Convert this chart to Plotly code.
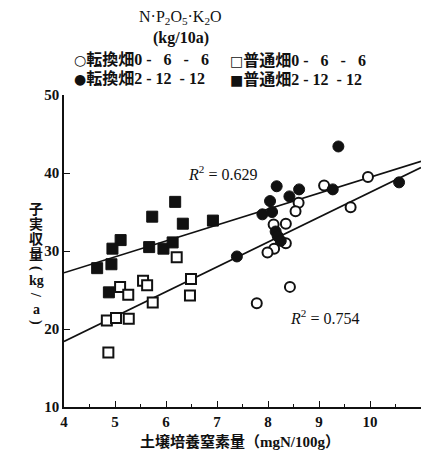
import plotly.graph_objects as go

# 転換畑 0-6-6 (open circles)
tc0_x = [9.10, 9.96, 9.62, 8.60, 8.54, 8.11, 8.35, 8.35, 8.12, 7.99, 8.43, 7.78]
tc0_y = [38.4, 39.5, 35.6, 36.2, 35.1, 33.4, 33.5, 31.0, 30.3, 29.8, 25.4, 23.3]
# 転換畑 2-12-12 (filled circles)
tc2_x = [9.38, 8.17, 8.61, 8.42, 8.04, 9.27, 10.57, 7.89, 8.08, 7.39, 8.15, 8.19, 8.25]
tc2_y = [43.4, 38.3, 37.9, 37.0, 36.4, 37.9, 38.8, 34.7, 35.0, 29.3, 32.5, 31.9, 31.3]
# 普通畑 0-6-6 (open squares)
fs0_x = [6.21, 5.10, 5.26, 5.55, 5.63, 6.49, 6.47, 5.74, 4.84, 5.02, 5.27, 4.87]
fs0_y = [29.2, 25.4, 24.4, 26.2, 25.6, 26.4, 24.3, 23.4, 21.1, 21.4, 21.3, 17.0]
# 普通畑 2-12-12 (filled squares)
fs2_x = [6.18, 5.73, 6.33, 6.92, 5.11, 4.95, 5.67, 5.95, 6.13, 4.93, 4.65, 4.88]
fs2_y = [36.3, 34.4, 33.5, 33.9, 31.4, 30.3, 30.5, 30.3, 31.1, 28.3, 27.8, 24.7]

# regression lines
fit_hi_x = [4, 11]
fit_hi_y = [27.2, 41.5]
fit_lo_x = [4, 11]
fit_lo_y = [18.4, 40.7]

r2_hi = "0.629"
r2_lo = "0.754"

NB = "\u00a0"
lab_c0 = "転換畑0" + NB + "-" + NB*3 + "6" + NB*3 + "-" + NB*3 + "6"
lab_c2 = "転換畑2" + NB + "-" + NB + "12" + NB*2 + "-" + NB + "12"
lab_s0 = "普通畑0" + NB + "-" + NB*3 + "6" + NB*3 + "-" + NB*3 + "6"
lab_s2 = "普通畑2" + NB + "-" + NB + "12" + NB*2 + "-" + NB + "12"

FONT = "Liberation Serif, Noto Sans CJK JP"
black = "#111111"

fig = go.Figure()
fig.add_trace(go.Scatter(x=fit_hi_x, y=fit_hi_y, mode="lines",
                         line=dict(color=black, width=1.6), showlegend=False, hoverinfo="skip"))
fig.add_trace(go.Scatter(x=fit_lo_x, y=fit_lo_y, mode="lines",
                         line=dict(color=black, width=1.6), showlegend=False, hoverinfo="skip"))

fig.add_trace(go.Scatter(x=tc0_x, y=tc0_y, mode="markers", name=lab_c0, showlegend=False,
                         marker=dict(symbol="circle", size=10, color="white",
                                     line=dict(color=black, width=2))))
fig.add_trace(go.Scatter(x=fs0_x, y=fs0_y, mode="markers", name=lab_s0, showlegend=False,
                         marker=dict(symbol="square", size=10, color="white",
                                     line=dict(color=black, width=2))))
fig.add_trace(go.Scatter(x=tc2_x, y=tc2_y, mode="markers", name=lab_c2, showlegend=False,
                         marker=dict(symbol="circle", size=11, color=black,
                                     line=dict(color=black, width=1))))
fig.add_trace(go.Scatter(x=fs2_x, y=fs2_y, mode="markers", name=lab_s2, showlegend=False,
                         marker=dict(symbol="square", size=11, color=black,
                                     line=dict(color=black, width=1))))

axis_common = dict(showline=True, linecolor=black, linewidth=1.5, showgrid=False,
                   zeroline=False, ticks="inside", tickcolor=black, tickwidth=1.2,
                   ticklen=6, mirror=False,
                   tickfont=dict(family=FONT, size=15, color=black, weight="bold"))

fig.update_xaxes(range=[4, 11], dtick=1, tick0=4,
                 minor=dict(dtick=0.5, ticks="inside", ticklen=3, tickcolor=black, tickwidth=1),
                 **axis_common)
fig.update_yaxes(range=[10, 50], dtick=10, tick0=10, **axis_common)

fig.add_annotation(x=7.1, y=40.0, xref="x", yref="y",
                   text="<i>R</i><sup>2</sup> = " + r2_hi, showarrow=False,
                   xanchor="center", yanchor="middle",
                   font=dict(family=FONT, size=16, color=black))
fig.add_annotation(x=9.1, y=21.6, xref="x", yref="y",
                   text="<i>R</i><sup>2</sup> = " + r2_lo, showarrow=False,
                   xanchor="center", yanchor="middle",
                   font=dict(family=FONT, size=16, color=black))

W, H = 427, 452
L, R, T, B = 64, 6, 95, 45
pw, ph = W - L - R, H - T - B

def px(xp):
    return (xp - L) / pw

def py(yp):
    return (H - B - yp) / ph

# legend title
fig.add_annotation(x=px(180), y=py(17), xref="paper", yref="paper", showarrow=False,
                   xanchor="center", yanchor="middle",
                   text="N·P<sub>2</sub>O<sub>5</sub>·K<sub>2</sub>O",
                   font=dict(family=FONT, size=16, color=black))
fig.add_annotation(x=px(181), y=py(38), xref="paper", yref="paper", showarrow=False,
                   xanchor="center", yanchor="middle",
                   text="(kg/10a)", font=dict(family=FONT, size=16, color=black, weight="bold"))

# manual legend entries
sym_font = "DejaVu Sans"
legend_items = [
    ("○", lab_c0, 72, 60),
    ("□", lab_s0, 228, 60),
    ("●", lab_c2, 72, 79),
    ("■", lab_s2, 228, 79),
]
for sym, lab, xp, yp in legend_items:
    fig.add_annotation(x=px(xp), y=py(yp), xref="paper", yref="paper", showarrow=False,
                       xanchor="left", yanchor="middle",
                       text=f"<span style='font-family:{sym_font};font-size:14px'>{sym}</span>" + lab,
                       font=dict(family=FONT, size=16, color=black, weight="bold"))

# y-axis title, stacked vertically (parentheses and slash turned for vertical writing)
ytitle_chars = ["子", "実", "収", "量", "(", "kg", "/", "a", ")"]
ytitle_pos = [209, 224, 239, 254, 268, 280, 295, 309, 322]
ytitle_rot = [0, 0, 0, 0, 90, 0, 90, 0, 90]
ytitle_size = [14, 14, 14, 14, 14, 14, 14, 14, 14]
for ch, yp, rot, fs in zip(ytitle_chars, ytitle_pos, ytitle_rot, ytitle_size):
    fig.add_annotation(x=px(36), y=py(yp), xref="paper", yref="paper", showarrow=False,
                       xanchor="center", yanchor="middle", textangle=rot,
                       text=ch, font=dict(family=FONT, size=fs, color=black, weight="bold"))

fig.add_annotation(x=px(240), y=py(441), xref="paper", yref="paper", showarrow=False,
                   xanchor="center", yanchor="middle",
                   text="土壌培養窒素量（mgN/100g）",
                   font=dict(family=FONT, size=15, color=black, weight="bold"))

fig.update_layout(
    width=W, height=H,
    margin=dict(l=L, r=R, t=T, b=B, autoexpand=False),
    paper_bgcolor="white", plot_bgcolor="white",
    showlegend=False,
)

fig.write_html("out.html", config={"displayModeBar": False},
               post_script="document.body.style.margin='0px';")
